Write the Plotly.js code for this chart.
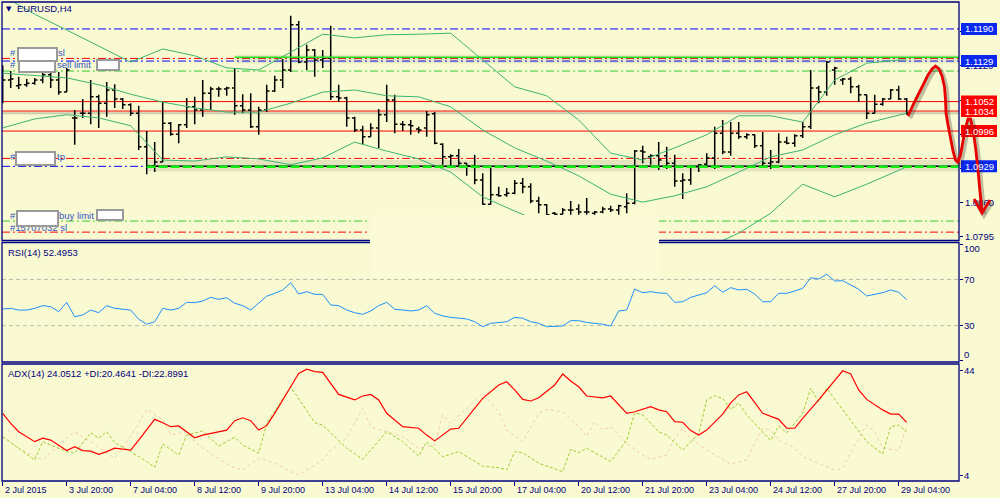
<!DOCTYPE html>
<html><head><meta charset="utf-8">
<script src="https://cdn.plot.ly/plotly-3.0.1.min.js"></script>
<style>html,body{margin:0;padding:0;background:#FAFAD2;} #chart{width:1000px;height:498px;}</style>
</head><body><div id="chart"></div>
<script>
// ---------------- DATA ----------------
const opens = [1.1093,1.1093,1.1082,1.1084,1.1087,1.1093,1.1103,1.1093,1.1070,1.1021,
1.1030,1.1030,1.1061,1.1049,1.1074,1.1057,1.1046,1.1030,1.0966,1.0930,
1.0937,1.1011,1.0990,1.1008,1.1042,1.1036,1.1068,1.1076,1.1076,1.1078,
1.1044,1.1036,1.1004,1.1036,1.1072,1.1093,1.1112,1.1198,1.1127,1.1150,
1.1131,1.1135,1.1061,1.1059,1.1021,1.0998,1.0985,1.1002,1.1027,1.1055,
1.1009,1.1008,1.1000,1.1002,1.1029,1.0971,1.0947,1.0949,1.0935,1.0930,
1.0903,1.0857,1.0875,1.0875,1.0878,1.0897,1.0890,1.0863,1.0856,1.0840,
1.0838,1.0846,1.0848,1.0842,1.0840,1.0842,1.0848,1.0846,1.0852,1.0859,
1.0958,1.0947,1.0949,1.0949,1.0935,1.0901,1.0903,1.0928,1.0933,1.0945,
1.0992,1.0956,1.0992,1.0985,1.0989,1.0968,1.0935,1.0937,1.0975,1.0973,
1.0987,1.1004,1.1078,1.1070,1.1112,1.1093,1.1095,1.1080,1.1065,1.1030,
1.1047,1.1057,1.1074,1.1057];
const highs = [1.1121,1.1110,1.1099,1.1095,1.1097,1.1110,1.1110,1.1108,1.1116,1.1036,
1.1057,1.1093,1.1065,1.1089,1.1085,1.1059,1.1049,1.1044,1.0996,1.0975,
1.1051,1.1013,1.1009,1.1059,1.1061,1.1093,1.1080,1.1080,1.1080,1.1116,
1.1066,1.1068,1.1042,1.1084,1.1101,1.1133,1.1215,1.1205,1.1160,1.1152,
1.1150,1.1196,1.1084,1.1061,1.1023,1.1006,1.1011,1.1038,1.1084,1.1065,
1.1015,1.1017,1.1004,1.1034,1.1032,1.0973,1.0952,1.0962,1.0935,1.0951,
1.0916,1.0926,1.0890,1.0888,1.0903,1.0907,1.0897,1.0871,1.0857,1.0842,
1.0850,1.0863,1.0857,1.0869,1.0844,1.0852,1.0854,1.0856,1.0878,1.0960,
1.0968,1.0952,1.0975,1.0966,1.0951,1.0916,1.0930,1.0933,1.0954,1.1004,
1.1017,1.1013,1.1013,1.0992,1.0990,1.0994,1.0960,1.0992,1.0985,1.0990,
1.1013,1.1112,1.1082,1.1129,1.1118,1.1097,1.1099,1.1084,1.1065,1.1065,
1.1059,1.1076,1.1082,1.1059];
const lows = [1.1049,1.1078,1.1076,1.1080,1.1084,1.1087,1.1078,1.1065,1.1070,1.0970,
1.1021,1.1009,1.1002,1.1023,1.1040,1.1038,1.1025,1.0960,1.0914,1.0918,
1.0937,1.0987,1.0973,1.1002,1.1009,1.1023,1.1036,1.1061,1.1063,1.1027,
1.1030,1.1002,1.0989,1.1032,1.1070,1.1078,1.1108,1.1125,1.1112,1.1099,
1.1116,1.1055,1.1051,1.1004,1.0994,1.0971,1.0985,1.0964,1.1013,1.0992,
1.0996,1.0989,1.0992,1.0985,1.0971,1.0932,1.0930,1.0930,1.0911,1.0895,
1.0856,1.0856,1.0871,1.0871,1.0876,1.0878,1.0859,1.0840,1.0837,1.0837,
1.0838,1.0837,1.0837,1.0837,1.0837,1.0840,1.0842,1.0837,1.0840,1.0857,
1.0935,1.0932,1.0922,1.0924,1.0890,1.0867,1.0894,1.0918,1.0926,1.0924,
1.0952,1.0949,1.0981,1.0981,1.0964,1.0928,1.0924,1.0935,1.0971,1.0966,
1.0983,1.1000,1.1049,1.1063,1.1084,1.1084,1.1068,1.1051,1.1019,1.1030,
1.1044,1.1057,1.1055,1.1027];
const closes = [1.1093,1.1095,1.1084,1.1087,1.1093,1.1103,1.1093,1.1070,1.1112,1.1021,
1.1030,1.1061,1.1049,1.1074,1.1057,1.1046,1.1030,1.0966,1.0930,1.0937,
1.1011,1.0990,1.1008,1.1042,1.1036,1.1068,1.1076,1.1076,1.1078,1.1044,
1.1036,1.1004,1.1036,1.1072,1.1093,1.1112,1.1198,1.1127,1.1150,1.1131,
1.1135,1.1061,1.1059,1.1021,1.0998,1.0985,1.1002,1.1027,1.1055,1.1009,
1.1008,1.1006,1.0998,1.1027,1.0973,1.0947,1.0949,1.0935,1.0930,1.0903,
1.0857,1.0875,1.0873,1.0878,1.0897,1.0890,1.0863,1.0856,1.0837,1.0838,
1.0846,1.0846,1.0842,1.0842,1.0842,1.0848,1.0846,1.0854,1.0859,1.0958,
1.0956,1.0949,1.0941,1.0935,1.0901,1.0903,1.0928,1.0932,1.0945,1.0992,
1.0956,1.0992,1.0985,1.0989,1.0968,1.0935,1.0937,1.0975,1.0973,1.0987,
1.1004,1.1078,1.1070,1.1127,1.1116,1.1095,1.1080,1.1065,1.1030,1.1047,
1.1057,1.1074,1.1057,1.1030];

// Bollinger bands, read every 4 bars
const bandBars = [0,4,8,12,16,20,24,28,32,36,40,44,48,52,56,60,64,68,72,76,80,84,88,92,96,100,104,108,112,113];
const bbUpper = [1.1253,1.1218,1.1188,1.1158,1.1127,1.1152,1.1139,1.1116,1.1112,1.1146,1.1180,1.1173,1.1179,1.1180,1.1182,1.1131,1.1080,1.1063,1.1017,1.0954,1.0941,1.0964,1.0989,1.1025,1.1025,1.1013,1.1093,1.1125,1.1131,1.1131];
const bbMiddle = [1.1106,1.1101,1.1097,1.1084,1.1066,1.1051,1.1040,1.1032,1.1032,1.1049,1.1070,1.1074,1.1063,1.1061,1.1042,1.0998,1.0964,1.0939,1.0911,1.0876,1.0861,1.0873,1.0890,1.0918,1.0947,1.0960,1.0989,1.1011,1.1027,1.1030];
const bbLower = [1.1002,1.1019,1.1027,1.1021,1.1006,1.0941,1.0939,1.0947,1.0943,1.0932,1.0945,1.0975,1.0958,1.0943,1.0918,1.0871,1.0844,1.0818,1.0793,1.0774,1.0764,1.0762,1.0774,1.0802,1.0840,1.0895,1.0871,1.0895,1.0922,1.0928];

// RSI(14), one value per bar
const rsi = [44.4,45.0,43.5,43.5,45.0,47.3,46.4,42.1,50.2,37.7,
39.2,43.5,41.2,47.3,45.0,44.5,43.5,35.5,31.2,33.4,
45.0,43.5,45.0,50.2,49.9,51.3,54.5,52.8,54.2,49.4,
47.3,43.5,49.5,55.5,58.0,60.9,67.2,57.4,59.4,57.1,
57.1,47.9,47.3,43.5,41.2,39.8,42.7,47.3,50.2,44.2,
43.5,42.7,43.5,47.3,40.7,38.4,37.2,36.4,35.8,33.4,
29.1,32.0,32.4,33.4,37.2,36.4,33.4,32.0,29.1,29.4,
29.7,34.3,34.3,32.8,32.0,31.2,29.7,42.7,43.5,61.7,
58.5,59.4,58.3,58.0,50.2,50.7,54.5,56.5,58.5,64.6,
58.9,62.9,60.9,61.5,57.4,50.7,50.7,58.0,58.0,60.0,
62.3,71.5,70.4,74.5,68.7,68.9,65.2,61.5,55.7,57.4,
58.5,60.9,58.9,52.5];

// ADX(14): bar index / value pairs read at the line's vertices
const adxBars = [0,1,2,4,5,6,8,9,10,11,12,13,14,16,17,19,20,21,22,24,25,28,29,30,31,32,33,34,36,37,38,39,40,41,42,44,45,46,47,48,50,52,53,54,55,56,57,58,60,62,63,64,65,66,67,69,70,71,72,73,75,76,77,78,79,81,82,83,84,85,86,87,88,90,91,92,93,94,95,97,98,99,100,102,104,105,106,107,108,110,111,112,113];
const adxVals = [27.5,23.7,20.5,16.7,18.0,17.3,13.3,14.8,13.3,13.1,11.9,12.9,14.2,13.5,17.3,25.2,23.9,22.4,22.7,18.2,19.2,21.1,24.7,25.8,24.7,21.1,22.8,27.5,37.6,42.7,44.3,43.4,43.1,38.9,34.7,32.6,34.1,34.7,32.6,27.5,22.4,21.8,19.2,17.0,19.2,21.5,21.8,25.6,33.2,38.3,39.5,36.4,32.8,32.2,33.4,38.3,42.5,39.8,37.6,34.1,33.4,34.1,30.7,27.5,28.1,30.0,28.8,28.1,24.3,24.1,20.9,19.2,21.1,27.2,31.5,34.5,35.7,31.5,27.5,25.2,21.8,21.8,25.6,32.6,40.2,43.7,42.5,36.4,32.8,28.8,27.2,27.2,24.05];
const pdiBars = [0,2,4,5,6,8,9,11,12,13,14,16,18,19,20,22,23,25,27,29,30,32,33,36,39,40,43,45,48,50,52,53,55,57,60,62,63,64,65,67,70,71,72,73,76,78,79,80,82,83,85,87,88,89,90,91,92,93,96,97,98,100,101,102,103,105,108,110,111,112,113];
const pdiVals = [18.6,14.2,9.7,16.7,15.4,12.9,12.3,20.1,18.0,20.5,16.3,12.9,9.1,6.9,15.8,11.6,19.2,20.8,15.0,18.4,15.4,12.3,23.7,37.6,23.9,23.0,14.2,10.0,20.5,16.7,11.2,16.7,11.0,12.9,7.4,6.8,5.9,12.9,12.5,8.5,5.3,13.8,12.5,14.2,9.1,17.3,27.7,26.9,20.5,19.2,13.5,19.9,32.6,34.2,33.2,29.0,31.5,26.9,17.1,22.7,20.1,27.5,37.0,31.9,37.0,28.8,16.7,12.0,22.4,23.0,20.46];
const mdiBars = [0,2,5,7,9,11,13,14,15,17,18,20,21,23,24,26,29,30,32,34,36,37,38,40,41,43,45,46,48,50,52,54,55,56,58,60,62,63,65,67,68,70,72,73,74,75,76,78,80,81,83,84,85,86,88,90,91,93,94,95,96,97,99,100,102,104,105,106,108,109,110,112,113];
const mdiVals = [18.6,14.2,9.7,15.4,20.5,16.7,12.3,10.4,14.2,23.7,29.0,25.2,19.2,20.5,16.7,12.0,6.6,5.9,10.4,8.5,5.3,4.0,5.9,9.7,13.5,18.0,29.4,22.4,20.5,18.6,14.2,15.4,26.9,23.7,29.4,35.1,28.0,21.1,16.7,27.5,29.0,28.1,22.4,18.6,24.3,21.1,22.4,16.1,11.6,10.0,11.6,18.0,21.8,18.0,13.5,10.0,8.2,9.7,16.1,21.8,21.1,17.3,14.2,11.0,8.5,5.9,6.6,12.9,23.0,20.5,14.2,13.3,22.9];

// time axis labels (every 8 bars)
const timeTickBars = [0,8,16,24,32,40,48,56,64,72,80,88,96,104,112];
const timeTickText = ['2 Jul 2015','3 Jul 20:00','7 Jul 04:00','8 Jul 12:00','9 Jul 20:00','13 Jul 04:00','14 Jul 12:00','15 Jul 20:00','17 Jul 04:00','20 Jul 12:00','21 Jul 20:00','23 Jul 04:00','24 Jul 12:00','27 Jul 20:00','29 Jul 04:00'];
const priceTicks = [1.0795,1.0860,1.0925,1.0990,1.1055,1.1120,1.1185];
const priceTickShown = [true,true,false,false,false,true,false];

// horizontal price levels (full width)
const levelPrices = [1.1190,1.1134,1.1129,1.1110,1.1052,1.1034,1.0996,1.0944,1.0929,1.0825,1.0804];
const supportPrice = 1.0929, supportStartBar = 18;
const resistPrice = 1.1136, resistStartBar = 29;
const boxPrices = [1.1190,1.1129,1.1052,1.1034,1.0996,1.0929];
const rsiLevels = [70,30];
const rsiLabels = [100,70,30,0];
const adxLabels = [44,4];

// ---------------- STYLE / LAYOUT ----------------
const BG = '#FAFAD2', NAVY = '#000080';
const FONT = 'Liberation Sans, Arial, sans-serif';
const W = 1000, H = 498, M = {l:2, r:41, t:2, b:17};
const PW = W - M.l - M.r, PH = H - M.t - M.b;
const px = x => (x - M.l) / PW;
const py = y => (H - M.b - y) / PH;
const barPx0 = 2.7, barStep = 8;
const xMin = (M.l - barPx0) / barStep, xMax = (M.l + PW - barPx0) / barStep;
const yMin = 1.078805, yMax = 1.12412;
const pricePerPx = (yMax - yMin) / (240.5 - 2);

const bars = opens.map((_, i) => i);
const DD = '8px,3px,2px,3px';
const levelStyles = [
  {c:'#0000FF', d:DD}, {c:'#FF0000', d:DD}, {c:'#0000FF', d:DD}, {c:'#32CD32', d:DD},
  {c:'#FF0000', d:'solid'}, {c:'#FF0000', d:'solid'}, {c:'#FF0000', d:'solid'},
  {c:'#FF0000', d:DD}, {c:'#0000FF', d:DD}, {c:'#32CD32', d:DD}, {c:'#FF0000', d:DD}
];
const boxColors = ['#0A28F0','#0A28F0','#FF0000','#FF0000','#FF0000','#0A28F0'];

const traces = [
  {type:'scatter', mode:'lines', x:bandBars, y:bbUpper, xaxis:'x', yaxis:'y', line:{color:'#3CB371', width:1}, hoverinfo:'skip'},
  {type:'scatter', mode:'lines', x:bandBars, y:bbMiddle, xaxis:'x', yaxis:'y', line:{color:'#3CB371', width:1}, hoverinfo:'skip'},
  {type:'scatter', mode:'lines', x:bandBars, y:bbLower, xaxis:'x', yaxis:'y', line:{color:'#3CB371', width:1}, hoverinfo:'skip'},
  {type:'ohlc', x:bars, open:opens, high:highs, low:lows, close:closes, xaxis:'x', yaxis:'y',
   increasing:{line:{color:'#000000', width:1.5}}, decreasing:{line:{color:'#000000', width:1.5}}, tickwidth:0.35, hoverinfo:'skip'},
  {type:'scatter', mode:'lines', x:bars, y:rsi, xaxis:'x', yaxis:'y2', line:{color:'#1E90FF', width:1}, hoverinfo:'skip'},
  {type:'scatter', mode:'lines', x:mdiBars, y:mdiVals, xaxis:'x', yaxis:'y3', line:{color:'#F2CBA8', width:1, dash:'dot'}, hoverinfo:'skip'},
  {type:'scatter', mode:'lines', x:pdiBars, y:pdiVals, xaxis:'x', yaxis:'y3', line:{color:'#9ACD32', width:1, dash:'3px,2px'}, hoverinfo:'skip'},
  {type:'scatter', mode:'lines', x:adxBars, y:adxVals, xaxis:'x', yaxis:'y3', line:{color:'#FF0000', width:1.2}, hoverinfo:'skip'}
];

const shapes = [];
shapes.push({type:'rect', layer:'below', xref:'x', yref:'y', x0:supportStartBar, x1:xMax, y0:1.0919, y1:1.0941, fillcolor:'rgba(80,80,60,0.13)', line:{width:0}});
shapes.push({type:'rect', layer:'below', xref:'x', yref:'y', x0:resistStartBar, x1:xMax, y0:1.1125, y1:1.1141, fillcolor:'rgba(80,80,60,0.10)', line:{width:0}});
shapes.push({type:'line', layer:'below', xref:'paper', yref:'y', x0:0, x1:1, y0:1.1030, y1:1.1030, line:{color:'rgba(120,120,110,0.35)', width:2}});
levelPrices.forEach((p, k) => {
  shapes.push({type:'line', layer:'below', xref:'paper', yref:'y', x0:0, x1:1, y0:p, y1:p, line:{color:levelStyles[k].c, width:1, dash:levelStyles[k].d}});
});
shapes.push({type:'line', layer:'above', xref:'x', yref:'y', x0:resistStartBar, x1:xMax, y0:resistPrice, y1:resistPrice, line:{color:'#22E022', width:1.5}});
shapes.push({type:'line', layer:'above', xref:'x', yref:'y', x0:supportStartBar, x1:xMax, y0:supportPrice, y1:supportPrice, line:{color:'#000000', width:1.5}});
shapes.push({type:'line', layer:'above', xref:'x', yref:'y', x0:supportStartBar, x1:xMax, y0:supportPrice-0.0001, y1:supportPrice-0.0001, line:{color:'#10F010', width:2.5, dash:'9px,3px'}});
rsiLevels.forEach(v => shapes.push({type:'line', layer:'below', xref:'paper', yref:'y2', x0:0, x1:1, y0:v, y1:v, line:{color:'#BDBDB0', width:1, dash:'4px,3px'}}));
['y','y2','y3'].forEach(a => shapes.push({type:'rect', layer:'above', xref:'paper', yref:a+' domain', x0:0, x1:1, y0:0, y1:1, line:{color:NAVY, width:1.3}}));
// blank patch in the screenshot
shapes.push({type:'rect', layer:'above', xref:'paper', yref:'paper', x0:px(370), x1:px(659), y0:py(276), y1:py(215), fillcolor:'#FBFBD8', line:{width:0}});
// right-scale price boxes
boxPrices.forEach((p, k) => shapes.push({type:'rect', layer:'above', xref:'paper', yref:'y', x0:1 + 2/PW, x1:1 + 38/PW, y0:p - 6*pricePerPx, y1:p + 6*pricePerPx, fillcolor:boxColors[k], line:{width:0}}));
// hand-drawn red arrow (screen pixels)
const drawPts = [[908,116],[913,105],[918,95],[923,85],[928,75],[932,69],[935.5,66],[939,69],[942,76],[944.5,87],[945.5,100],[946,113],[948,125],[950.5,138],[953,151],[955.5,160],[958,162],[960.5,155],[963,141],[965.5,128],[968,119],[970.5,119],[973,130],[975.5,147],[978,170],[980,192],[982,212]];
const headPts = [[974,199],[982,213],[990,200]];
const pathOf = (pts, dx, dy) => pts.map((p, k) => (k ? 'L' : 'M') + px(p[0]+dx).toFixed(5) + ',' + py(p[1]+dy).toFixed(5)).join(' ');
[[2,2,'rgba(40,30,30,0.28)',4.5],[0,0,'#E80000',2.8]].forEach(s => {
  shapes.push({type:'path', layer:'above', xref:'paper', yref:'paper', path:pathOf(drawPts, s[0], s[1]), line:{color:s[2], width:s[3]}});
  shapes.push({type:'path', layer:'above', xref:'paper', yref:'paper', path:pathOf(headPts, s[0], s[1]), line:{color:s[2], width:s[3]}});
});

const ann = [];
const txt = (x, y, t, o={}) => ann.push(Object.assign({xref:'paper', yref:'paper', x:px(x), y:py(y), xanchor:'left', yanchor:'middle', text:t, showarrow:false, font:{family:FONT, size:9.5, color:NAVY}}, o));
txt(4, 9, '▼', {font:{family:'DejaVu Sans', size:7, color:NAVY}});
txt(15, 9, 'EURUSD,H4');
txt(6, 252, 'RSI(14) 52.4953');
txt(6, 373, 'ADX(14) 24.0512 +DI:20.4641 -DI:22.8991');
const OC = '#3457C8';
const ofont = {family:FONT, size:9.5, color:OC};
txt(8, 52, '#', {font:ofont}); txt(56, 52, 'sl', {font:ofont});
txt(8, 65, '#', {font:ofont}); txt(55, 65, 'sell limit', {font:ofont});
txt(8, 156, '#', {font:ofont}); txt(55, 156, 'tp', {font:ofont});
txt(8, 227, '#15707032 sl', {font:ofont});
txt(8, 215, '#', {font:ofont}); txt(57, 215, 'buy limit', {font:ofont});
const mask = (x0, y0, x1, y1) => ann.push({xref:'paper', yref:'paper', x:px(x0), y:py(y0), xanchor:'left', yanchor:'top', text:'\u00a0', width:x1-x0, height:y1-y0, borderpad:0, bgcolor:'#FFFFFF', bordercolor:'#9A9A9A', borderwidth:2, showarrow:false, font:{size:6}});
mask(17, 47, 54, 58); mask(18, 60, 52, 69); mask(96, 59, 116, 67);
mask(15, 151, 52, 162); mask(16, 210, 55, 223); mask(96, 209, 120, 217);
timeTickBars.forEach((b, k) => ann.push({xref:'x', yref:'paper', x:b, y:py(490), xanchor:'left', yanchor:'middle', text:timeTickText[k], showarrow:false, font:{family:FONT, size:9, color:NAVY}}));
boxPrices.forEach((p, k) => ann.push({xref:'paper', yref:'y', x:1 + 20/PW, y:p, xanchor:'center', yanchor:'middle', text:p.toFixed(4), showarrow:false, font:{family:FONT, size:9.5, color:'#FFFFFF'}}));
rsiLabels.forEach(v => ann.push({xref:'paper', yref:'y2', x:1, xshift:3, y:v, yshift:(v===100?-4:(v===0?6:0)), xanchor:'left', yanchor:'middle', text:String(v), showarrow:false, font:{family:FONT, size:9.5, color:NAVY}}));
adxLabels.forEach(v => ann.push({xref:'paper', yref:'y3', x:1, xshift:3, y:v, xanchor:'left', yanchor:'middle', text:String(v), showarrow:false, font:{family:FONT, size:9.5, color:NAVY}}));

const axisCommon = {showgrid:false, zeroline:false, showline:false, fixedrange:true};
const layout = {
  width:W, height:H, margin:Object.assign({autoexpand:false, pad:0}, M),
  paper_bgcolor:BG, plot_bgcolor:BG, showlegend:false, hovermode:false,
  xaxis:Object.assign({}, axisCommon, {anchor:'y3', range:[xMin, xMax], rangeslider:{visible:false}, tickmode:'array', tickvals:timeTickBars, ticks:'outside', ticklen:4, tickwidth:1, tickcolor:NAVY, showticklabels:false}),
  yaxis:Object.assign({}, axisCommon, {domain:[py(240.5), 1], anchor:'x', side:'right', range:[yMin, yMax], tickmode:'array', tickvals:priceTicks, ticktext:priceTicks.map((v,k)=>priceTickShown[k] ? v.toFixed(4) : ''), ticks:'outside', ticklen:3, tickcolor:NAVY, tickfont:{family:FONT, size:9.5, color:NAVY}}),
  yaxis2:Object.assign({}, axisCommon, {domain:[py(362), py(242.5)], anchor:'x', side:'right', range:[-1.47, 101.99], tickmode:'array', tickvals:rsiLabels, ticks:'outside', ticklen:3, tickcolor:NAVY, showticklabels:false}),
  yaxis3:Object.assign({}, axisCommon, {domain:[0, py(364)], anchor:'x', side:'right', range:[1.714, 46.286], tickmode:'array', tickvals:adxLabels, ticks:'outside', ticklen:3, tickcolor:NAVY, showticklabels:false}),
  shapes:shapes, annotations:ann
};
Plotly.newPlot('chart', traces, layout, {staticPlot:true, displayModeBar:false});
</script></body></html>
